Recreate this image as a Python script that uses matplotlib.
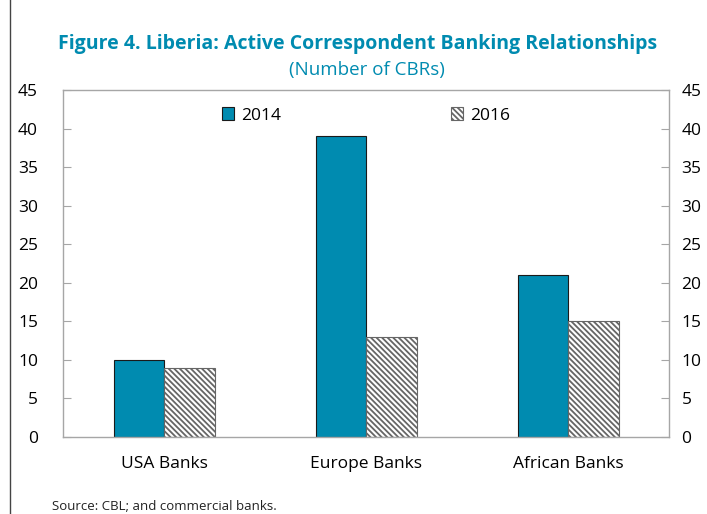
import numpy as np
import matplotlib.pyplot as plt
from matplotlib.lines import Line2D

plt.rcParams['font.family'] = ['Open Sans', 'DejaVu Sans']
plt.rcParams['hatch.linewidth'] = 1.3
plt.rcParams['hatch.color'] = '#4d4d4d'

categories = ['USA Banks', 'Europe Banks', 'African Banks']
cbr_2014 = [10, 39, 21]
cbr_2016 = [9, 13, 15]
yticks = [0, 5, 10, 15, 20, 25, 30, 35, 40, 45]

teal = '#008BB0'
frame = '#A6A6A6'

fig = plt.figure(figsize=(7.07, 5.14), dpi=100)
ax = fig.add_axes([63/707, 1-437/514, 606/707, 347/514])

x = np.arange(len(categories))
w = 0.25
ax.bar(x - w/2, cbr_2014, w, color=teal, edgecolor='#1a1a1a', linewidth=0.8, label='2014')
ax.bar(x + w/2, cbr_2016, w, color='white', edgecolor='#666666', linewidth=0.8,
       hatch='\\\\\\\\\\\\', label='2016')

ax.set_xlim(-0.5, 2.5)
ax.set_ylim(0, 45)
ax.set_yticks(yticks)
ax.set_xticks(x)
ax.set_xticklabels(categories)
for s in ax.spines.values():
    s.set_color(frame)
    s.set_linewidth(1)
ax.tick_params(axis='y', direction='in', length=6, color=frame, labelsize=12.5,
               left=True, right=False, labelleft=True, labelright=False, pad=18)
ax.tick_params(axis='x', length=0, labelsize=12.5, pad=14)

# right hand axis with the same scale
ax2 = ax.twinx()
ax2.set_ylim(0, 45)
ax2.set_yticks(yticks)
for s in ax2.spines.values():
    s.set_visible(False)
ax2.tick_params(axis='y', direction='in', length=6, color=frame, labelsize=12.5, pad=9)

ax.legend(loc='upper center', bbox_to_anchor=(0.5, 1.0), ncol=2, frameon=False,
          fontsize=12.5, handlelength=0.7, handleheight=0.7, handletextpad=0.4,
          columnspacing=9.8, borderaxespad=0.6)

fig.text(358/707, 1-44/514, 'Figure 4. Liberia: Active Correspondent Banking Relationships',
         ha='center', va='center', fontsize=14, fontweight='bold', color=teal)
fig.text(367/707, 1-70/514, '(Number of CBRs)', ha='center', va='center',
         fontsize=13.5, color=teal)
fig.text(52/707, 1-506/514, 'Source: CBL; and commercial banks.', ha='left', va='center',
         fontsize=9.5, color='#222222')

fig.add_artist(Line2D([10/707, 10/707], [0, 1], color='#444444', linewidth=1))

fig.savefig('out.png', dpi=100)
